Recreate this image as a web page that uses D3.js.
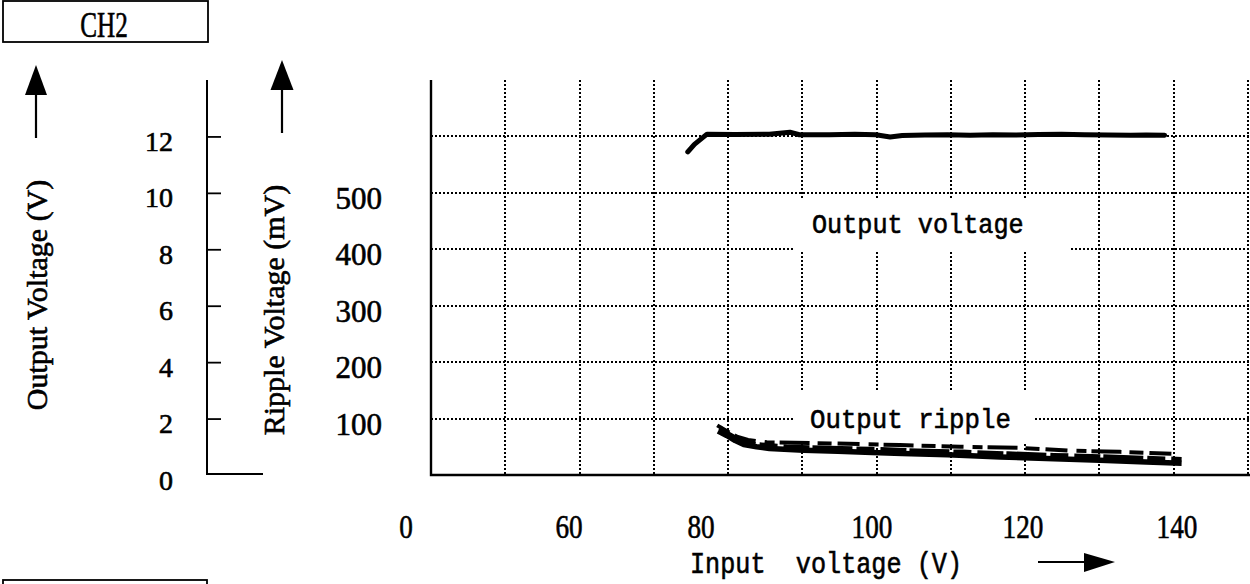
<!DOCTYPE html>
<html>
<head>
<meta charset="utf-8">
<script src="https://cdn.jsdelivr.net/npm/d3@7"></script>
<style>
  body { margin: 0; background: #fff; }
  svg { display: block; }
  text { fill: #000; stroke: #000; stroke-width: 0.6px; }
</style>
</head>
<body>
<svg id="chart" width="1250" height="584"></svg>
<script>
// ---- data -------------------------------------------------------------
const inputTicks   = [0, 60, 80, 100, 120, 140];        // input voltage (V)
const outputTicks  = [0, 2, 4, 6, 8, 10, 12];           // output voltage (V)
const rippleTicks  = [100, 200, 300, 400, 500];         // ripple voltage (mV)

// output voltage vs input voltage: [Vin (V), Vout (V)]
const outputVoltage = [
  [78.0, 11.45], [79.0, 11.72], [80.7, 12.08], [84.0, 12.07], [88.0, 12.08],
  [90.4, 12.15], [91.5, 12.06], [95.0, 12.06], [98.0, 12.08], [100.5, 12.06],
  [102.4, 11.98], [104.0, 12.03], [107.0, 12.05], [110.0, 12.06], [113.0, 12.04],
  [116.0, 12.06], [119.0, 12.05], [122.0, 12.07], [125.0, 12.08], [128.0, 12.06],
  [131.0, 12.05], [134.0, 12.04], [136.0, 12.05], [138.4, 12.04]
];

// output ripple, several overlaid sweeps: [Vin (V), ripple (mV)]
const rippleLow = [
  [82.0, 78], [83.0, 70], [84.0, 61], [85.0, 54], [86.5, 50], [88.0, 47],
  [92.0, 44], [96.0, 42], [100.0, 40], [104.0, 38], [110.0, 36], [117.0, 32],
  [124.0, 29], [130.0, 26], [136.0, 23], [140.6, 21]
];
const rippleMid = [
  [82.2, 84], [83.2, 73], [84.5, 62], [86.0, 55], [90.0, 50], [95.0, 48],
  [100.0, 46], [106.0, 43], [112.0, 41], [118.0, 38], [124.0, 35], [130.0, 33],
  [136.0, 30], [140.6, 28]
];
const rippleHigh = [
  [81.9, 88], [83.0, 78], [84.2, 68], [85.5, 62], [87.7, 58], [95.1, 56],
  [103.7, 53], [111.7, 50], [119.6, 48], [126.2, 43], [132.6, 41], [140.4, 37]
];

// ---- scales -----------------------------------------------------------
const svg = d3.select('#chart');
const serif = "'Liberation Serif', 'Times New Roman', serif";
const mono  = "'Liberation Mono', 'Courier New', monospace";

const x  = d3.scaleLinear().domain(inputTicks).range([406, 569, 701, 872, 1023, 1177]);
const yV = d3.scaleLinear().domain([0, 14]).range([475, 80]);
const yR = d3.scaleLinear().domain([0, 700]).range([475, 80]);
const div = d3.scaleLinear().domain([0, 11]).range([431, 1248]);   // screen divisions

// ---- dotted graticule -------------------------------------------------
const snap = v => Math.round(v);
const grid = svg.append('g')
  .attr('stroke', '#000').attr('stroke-width', 2)
  .attr('stroke-dasharray', '2,2').attr('fill', 'none')
  .attr('shape-rendering', 'crispEdges');
grid.selectAll('line.v').data(d3.range(1, 12)).join('line')
  .attr('class', 'v')
  .attr('x1', d => snap(div(d))).attr('x2', d => snap(div(d)))
  .attr('y1', snap(yV(14))).attr('y2', snap(yV(0)));
grid.selectAll('line.h').data(d3.range(2, 13, 2)).join('line')
  .attr('class', 'h')
  .attr('x1', div(0)).attr('x2', 1250)
  .attr('y1', d => snap(yV(d))).attr('y2', d => snap(yV(d)));

// label backgrounds that blank the graticule
svg.append('rect').attr('x', 793).attr('y', 200).attr('width', 277).attr('height', 52).attr('fill', '#fff');
svg.append('rect').attr('x', 793).attr('y', 392).attr('width', 242).attr('height', 51).attr('fill', '#fff');

// plot frame (left and bottom edges)
svg.append('path')
  .attr('d', `M${div(0)},${yV(14)}V${yV(0)}H1250`)
  .attr('fill', 'none').attr('stroke', '#000').attr('stroke-width', 2.4);

// ---- traces -----------------------------------------------------------
const lineV = d3.line().x(d => x(d[0])).y(d => yV(d[1]));
const lineR = d3.line().x(d => x(d[0])).y(d => yR(d[1]));

svg.append('path').datum(outputVoltage)
  .attr('d', lineV).attr('fill', 'none').attr('stroke', '#000')
  .attr('stroke-width', 5).attr('stroke-linejoin', 'round').attr('stroke-linecap', 'round');

const ripplePens = [
  { data: rippleHigh, w: 4, dash: '14,6,22,9,10,5,30,8' },
  { data: rippleMid,  w: 4.5, dash: '40,4,18,6,26,3' },
  { data: rippleLow,  w: 5.5, dash: null }
];
ripplePens.forEach(p => {
  svg.append('path').datum(p.data)
    .attr('d', lineR).attr('fill', 'none').attr('stroke', '#000')
    .attr('stroke-width', p.w).attr('stroke-linejoin', 'round')
    .attr('stroke-dasharray', p.dash);
});

// in-plot labels
svg.append('text').attr('transform', 'translate(812,233) scale(0.9,1)')
  .attr('font-family', mono).attr('font-size', 28)
  .text('Output voltage');
svg.append('text').attr('transform', 'translate(810,428) scale(0.92,1)')
  .attr('font-family', mono).attr('font-size', 28)
  .text('Output ripple');

// ---- left axes ----------------------------------------------------------
const axV = svg.append('g').attr('transform', 'translate(207,0)')
  .call(d3.axisLeft(yV).tickValues(outputTicks.filter(d => d > 0)).tickSizeInner(-14).tickSizeOuter(0).tickPadding(34).tickFormat(d3.format('d')));
axV.select('.domain').remove();
axV.selectAll('.tick line').attr('stroke', '#000').attr('stroke-width', 1.8);
axV.selectAll('.tick text').attr('font-family', serif).attr('font-size', 28).attr('dy', '0.5em');
// zero label sits below the axis stub
svg.append('text').attr('x', 173).attr('y', yV(0) + 5).attr('dy', '0.35em')
  .attr('text-anchor', 'end').attr('font-family', serif).attr('font-size', 28).text(outputTicks[0]);
svg.append('path').attr('d', `M207,${yV(14)}V${yV(0) - 1}H263`)
  .attr('fill', 'none').attr('stroke', '#000').attr('stroke-width', 2);

const axR = svg.append('g').attr('transform', 'translate(382,0)')
  .call(d3.axisLeft(yR).tickValues(rippleTicks).tickSize(0).tickPadding(0));
axR.select('.domain').remove();
axR.selectAll('.tick text').attr('font-family', serif).attr('font-size', 31).attr('dy', '0.5em');

// rotated axis titles
svg.append('text').attr('transform', 'translate(47,295) rotate(-90)')
  .attr('text-anchor', 'middle').attr('font-family', serif).attr('font-size', 30)
  .text('Output Voltage (V)');
svg.append('text').attr('transform', 'translate(284,310) rotate(-90)')
  .attr('text-anchor', 'middle').attr('font-family', serif).attr('font-size', 30)
  .text('Ripple Voltage (mV)');

// upward arrows above the titles
function arrowUp(cx, tip, base, half, tail) {
  svg.append('line').attr('x1', cx).attr('x2', cx).attr('y1', base).attr('y2', tail)
    .attr('stroke', '#000').attr('stroke-width', 2.2);
  svg.append('path').attr('d', `M${cx},${tip}L${cx - half},${base}L${cx + half},${base}Z`).attr('fill', '#000');
}
arrowUp(36, 65, 95, 11, 138);
arrowUp(282, 60, 90, 11.5, 133);

// ---- bottom axis labels -------------------------------------------------
svg.append('g').selectAll('text').data(inputTicks).join('text')
  .attr('transform', d => `translate(${x(d)},538) scale(0.8,1)`)
  .attr('text-anchor', 'middle').attr('font-family', serif).attr('font-size', 34)
  .text(d => d);

svg.append('text').attr('transform', 'translate(690,573) scale(0.84,1)')
  .attr('font-family', mono).attr('font-size', 30).attr('xml:space', 'preserve')
  .style('white-space', 'pre')
  .text('Input  voltage (V)');
svg.append('line').attr('x1', 1038).attr('x2', 1090).attr('y1', 562).attr('y2', 562)
  .attr('stroke', '#000').attr('stroke-width', 2.2);
svg.append('path').attr('d', 'M1115,562L1084,553L1084,572Z').attr('fill', '#000');

// ---- channel tag boxes ----------------------------------------------------
svg.append('rect').attr('x', 3).attr('y', 1).attr('width', 205).attr('height', 41)
  .attr('fill', 'none').attr('stroke', '#000').attr('stroke-width', 1.8);
svg.append('text').attr('transform', 'translate(104,37) scale(0.72,1)')
  .attr('text-anchor', 'middle').attr('font-family', serif).attr('font-size', 35)
  .text('CH2');
svg.append('rect').attr('x', 3).attr('y', 580).attr('width', 204).attr('height', 20)
  .attr('fill', 'none').attr('stroke', '#000').attr('stroke-width', 1.8);
</script>
</body>
</html>
